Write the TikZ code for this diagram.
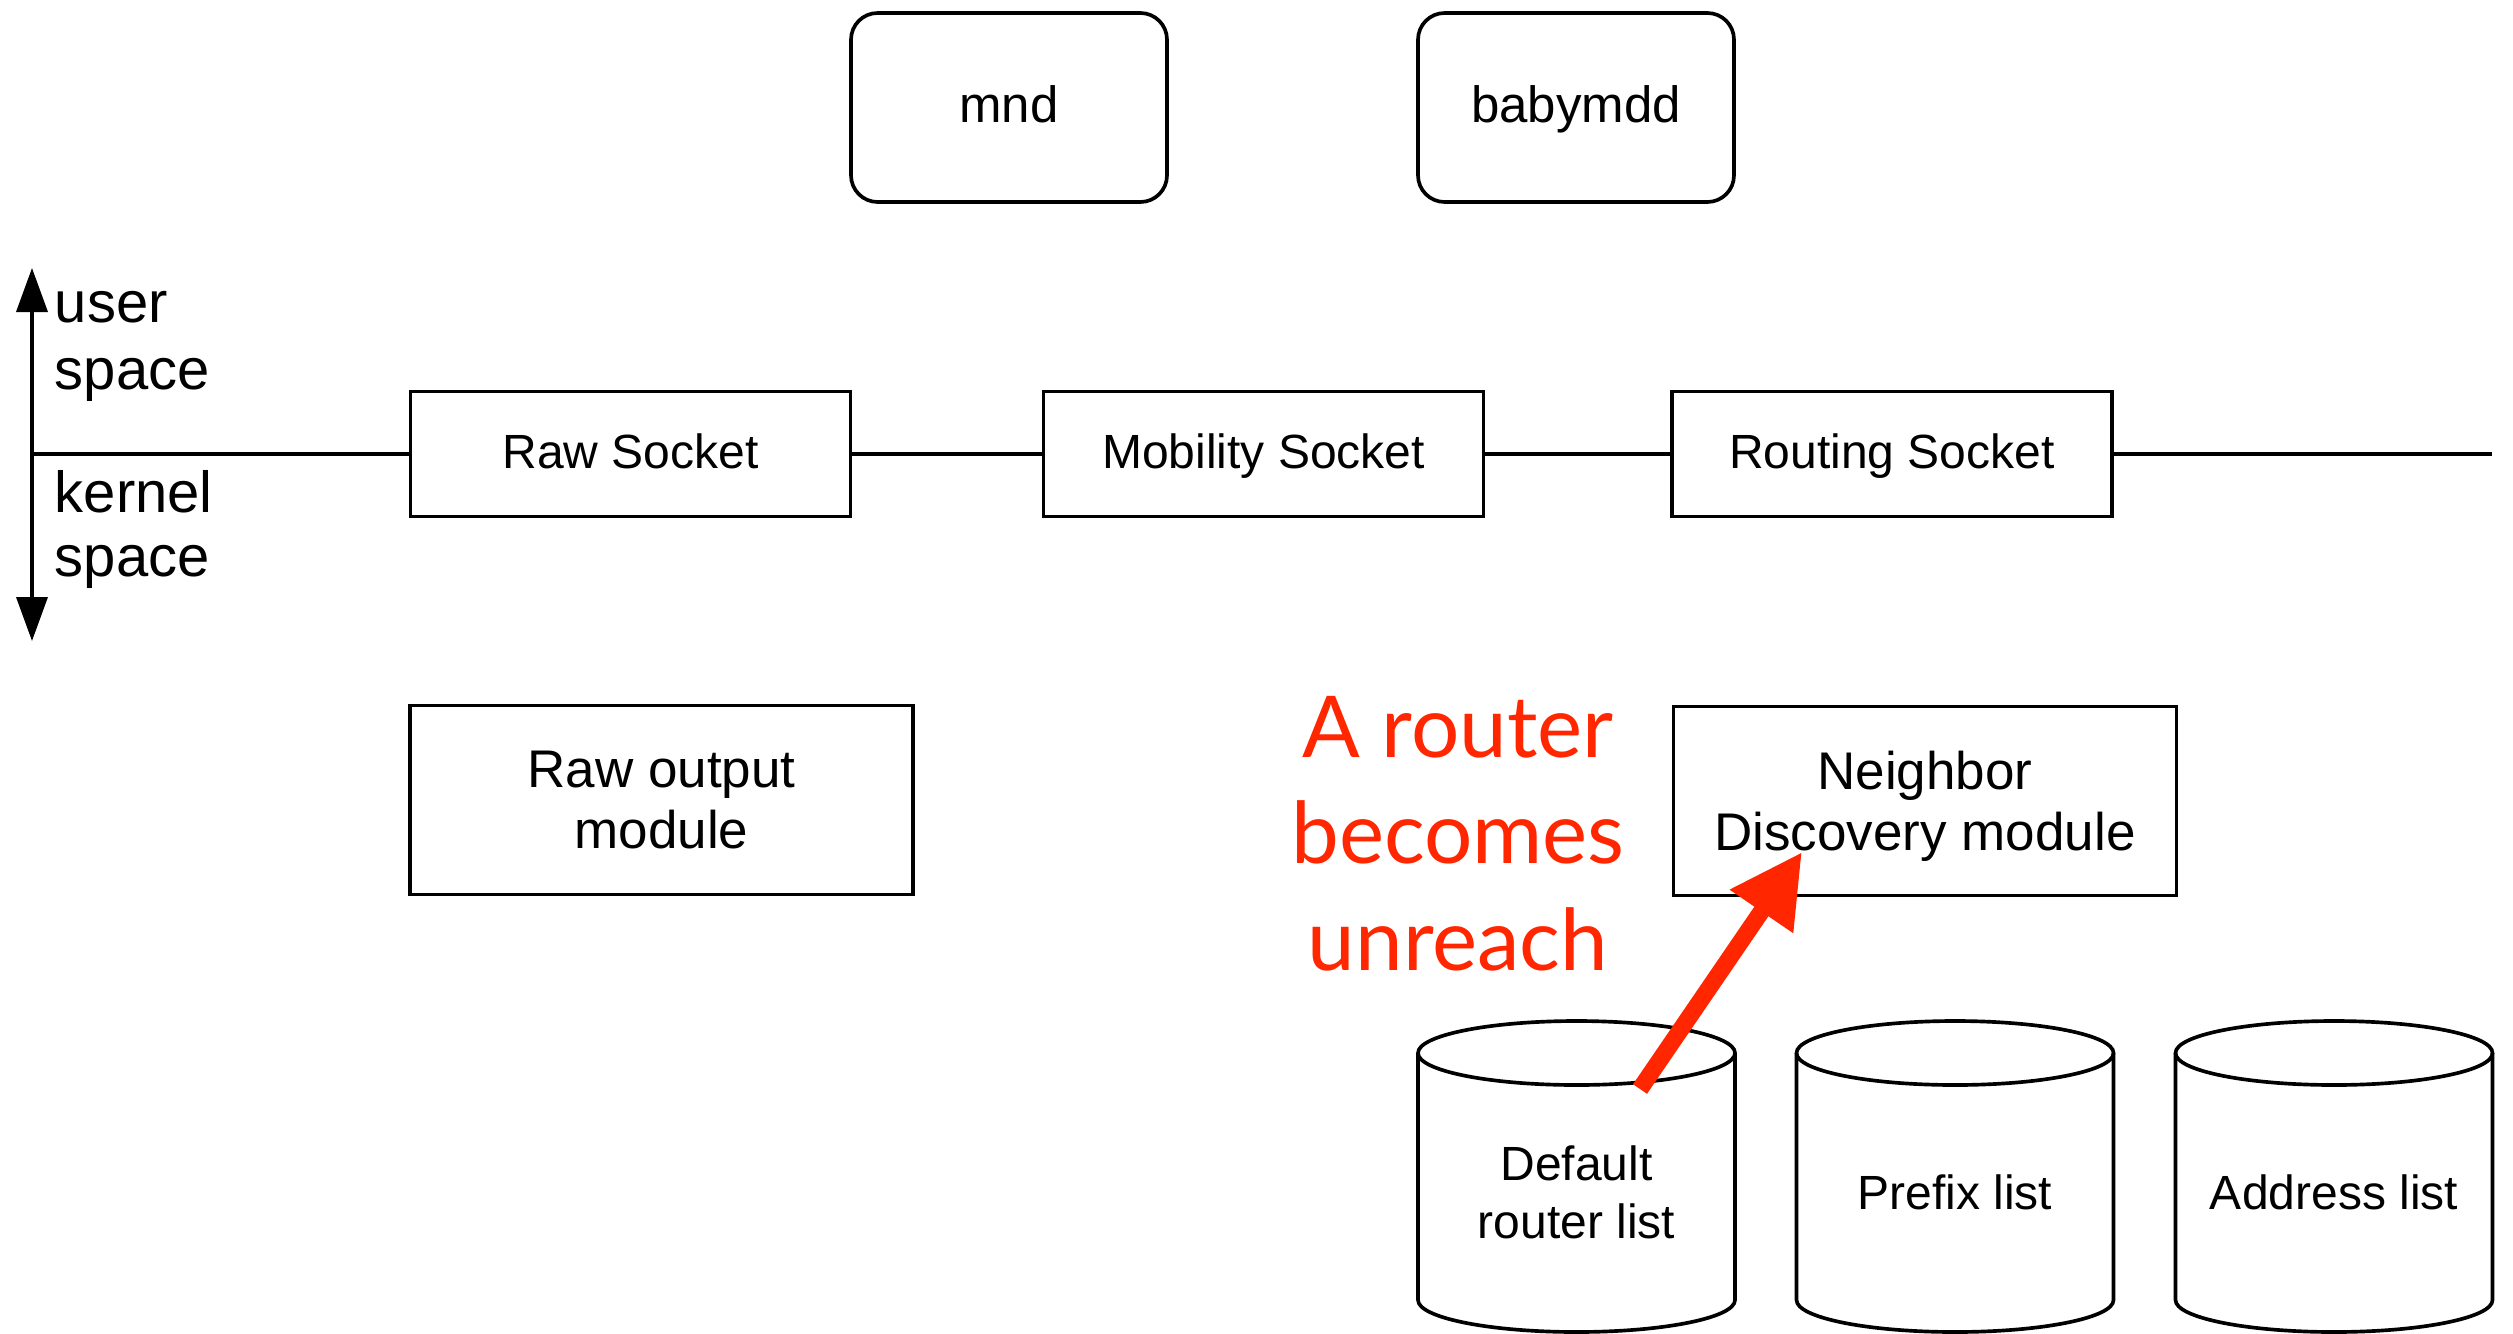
\documentclass[tikz,border=0pt]{standalone}
\usepackage{fontspec}
\setmainfont{Liberation Sans}
\newfontfamily\notefont{Lato}
\usetikzlibrary{arrows.meta}
\definecolor{alertred}{RGB}{255,38,0}

\begin{document}
\begin{tikzpicture}[x=0.3pt, y=-0.3pt, line width=1.1pt,
  sockbox/.style={draw, rectangle, inner sep=0pt,
    text height=10.4pt, text depth=1.7pt,
    minimum width=132pt, minimum height=37.5pt,
    font=\fontsize{14.4}{17}\selectfont},
  modbox/.style={draw, rectangle, inner sep=0pt, align=center,
    minimum width=150.9pt, minimum height=56.7pt,
    font=\fontsize{15.9}{18.3}\selectfont},
  daemon/.style={draw, rectangle, rounded corners=8pt, inner sep=0pt,
    text height=11pt, text depth=1.8pt,
    minimum width=94.8pt, minimum height=56.7pt,
    font=\fontsize{15.3}{18}\selectfont},
  spacelabel/.style={anchor=base west, inner sep=0pt,
    font=\fontsize{17.4}{20}\selectfont},
  cyltext/.style={inner sep=0pt, align=center,
    font=\fontsize{14.4}{17.4}\selectfont},
  alert/.style={anchor=base, inner sep=0pt, text=alertred,
    font=\notefont\fontsize{25.6}{32}\selectfont},
  axisline/.style={<->, >={Triangle[length=13.2pt, width=9.3pt]}},
]
\useasboundingbox (0,0) rectangle (2513,1333);

% user-space daemons
\node[daemon] (mnd) at (1009,107.5) {mnd};
\node[daemon] (babymdd) at (1576,107.5) {babymdd};

% user/kernel boundary axis
\coordinate (axtop) at (32,268);
\coordinate (axbot) at (32,641);
\coordinate (axmid) at (32,454);
\coordinate (lineend) at (2492,454);
\draw[axisline] (axtop) -- (axbot);
\node[spacelabel] (user1) at (53,322) {user};
\node[spacelabel] (user2) at (53,389) {space};
\node[spacelabel] (kern1) at (53,512) {kernel};
\node[spacelabel] (kern2) at (53,576) {space};

% sockets on the boundary
\node[sockbox] (rawsock) at (630.5,454) {Raw Socket};
\node[sockbox] (mobsock) at (1263.5,454) {Mobility Socket};
\node[sockbox] (routsock) at (1892,454) {Routing Socket};
\draw (axmid) -- (rawsock.west);
\draw (rawsock.east) -- (mobsock.west);
\draw (mobsock.east) -- (routsock.west);
\draw (routsock.east) -- (lineend);

% kernel modules
\node[modbox] (rawout) at (661.5,800) {Raw output\\module};
\node[modbox] (ndmod) at (1925,801)
  {Neighbor\\\raisebox{0pt}[\height][0pt]{Discovery module}};

% kernel lists
\foreach \cx/\name/\txt in {1576.5/drl/{Default\\router list},
                            1955/pfx/{Prefix list},
                            2334/adr/{Address list}} {
  \draw (\cx,1053) ellipse [x radius=47.55pt, y radius=9.6pt];
  \draw (\cx-158.5,1053) -- (\cx-158.5,1300)
        arc [start angle=180, end angle=360, x radius=47.55pt, y radius=9.6pt]
        -- (\cx+158.5,1053);
  \node[cyltext] (\name) at (\cx,1192) {\txt};
}

% event note
\node[alert] (note1) at (1458,757) {A router};
\node[alert] (note2) at (1458,863) {becomes};
\node[alert] (note3) at (1458,970) {unreach};

\coordinate (alerttail) at (1640,1089);
\coordinate (alerttip) at (1802,852);
\draw[alertred, line width=5.1pt,
      -{Triangle[length=21.6pt, width=21.6pt]}] (alerttail) -- (alerttip);
\end{tikzpicture}
\end{document}
